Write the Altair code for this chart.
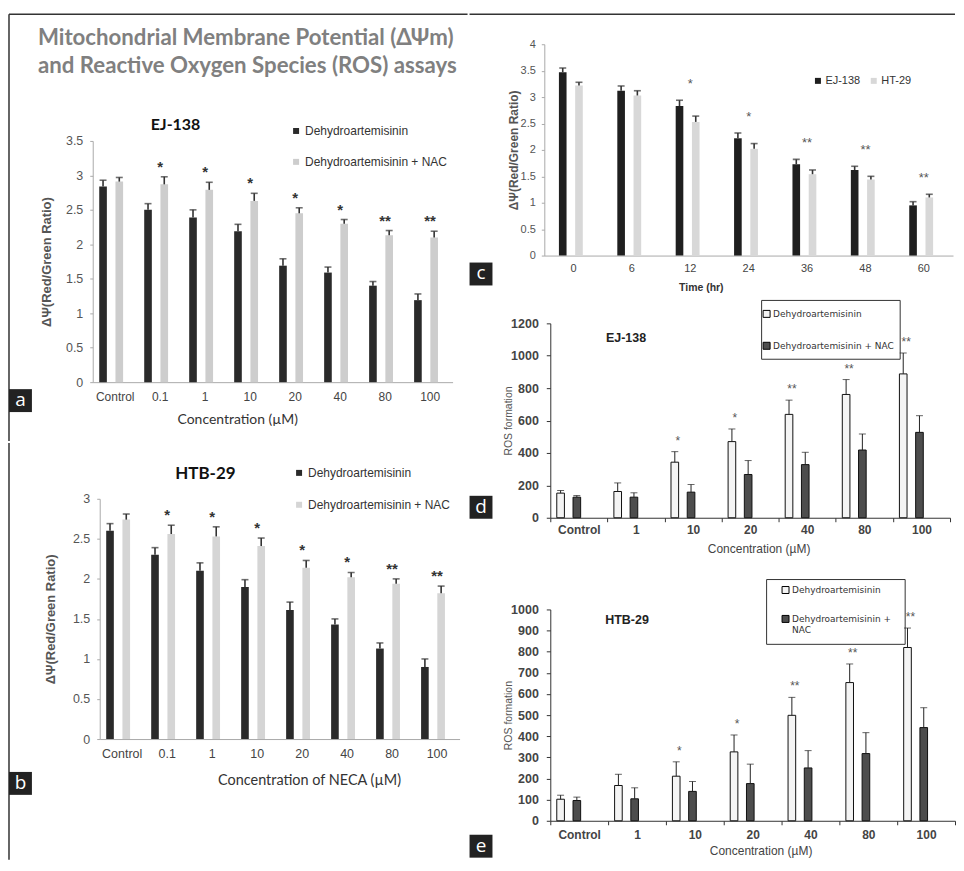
import altair as alt
import pandas as pd

# ---------------- data ----------------
conc_ab = ["Control", "0.1", "1", "10", "20", "40", "80", "100"]
ser_ab = ["Dehydroartemisinin", "Dehydroartemisinin + NAC"]

a_dha = [2.84, 2.50, 2.39, 2.19, 1.69, 1.59, 1.40, 1.19]
a_dha_err = [0.09, 0.09, 0.11, 0.10, 0.10, 0.08, 0.06, 0.09]
a_nac = [2.91, 2.87, 2.79, 2.63, 2.45, 2.30, 2.13, 2.10]
a_nac_err = [0.06, 0.11, 0.11, 0.11, 0.08, 0.06, 0.07, 0.09]
a_sig = ["", "*", "*", "*", "*", "*", "**", "**"]

b_dha = [2.60, 2.30, 2.10, 1.90, 1.61, 1.43, 1.13, 0.90]
b_dha_err = [0.09, 0.09, 0.10, 0.09, 0.10, 0.07, 0.07, 0.10]
b_nac = [2.74, 2.56, 2.53, 2.41, 2.14, 2.02, 1.94, 1.82]
b_nac_err = [0.07, 0.11, 0.12, 0.10, 0.09, 0.06, 0.06, 0.09]
b_sig = ["", "*", "*", "*", "*", "*", "**", "**"]

times_c = ["0", "6", "12", "24", "36", "48", "60"]
ser_c = ["EJ-138", "HT-29"]
c_ej = [3.47, 3.12, 2.83, 2.22, 1.73, 1.62, 0.95]
c_ej_err = [0.08, 0.09, 0.11, 0.10, 0.09, 0.07, 0.07]
c_ht = [3.22, 3.03, 2.53, 2.02, 1.54, 1.44, 1.10]
c_ht_err = [0.06, 0.09, 0.11, 0.10, 0.08, 0.06, 0.06]
c_sig = ["", "", "*", "*", "**", "**", "**"]

conc_de = ["Control", "1", "10", "20", "40", "80", "100"]
ser_de = ["Dehydroartemisinin", "Dehydroartemisinin + NAC"]
d_dha = [152, 162, 343, 470, 638, 761, 888]
d_dha_err = [16, 53, 65, 78, 88, 92, 129]
d_nac = [127, 127, 158, 267, 328, 418, 527]
d_nac_err = [10, 27, 47, 86, 76, 99, 103]
d_sig = ["", "", "*", "*", "**", "**", "**"]

e_dha = [102, 167, 211, 326, 499, 654, 820]
e_dha_err = [19, 53, 68, 80, 85, 88, 92]
e_nac = [96, 104, 139, 176, 250, 318, 441]
e_nac_err = [16, 52, 47, 92, 82, 99, 94]
e_sig = ["", "", "*", "*", "**", "**", "**"]

main_title = ["Mitochondrial Membrane Potential (\u0394\u03a8m)",
              "and Reactive Oxygen Species (ROS) assays"]

SANS = "Liberation Sans"
one = pd.DataFrame({"k": [0]})
NUM_LABEL = "'' + datum.value"


def make_df(cats, names, s1, e1, s2, e2):
    n = len(cats)
    df = pd.DataFrame({
        "cat": list(cats) * 2,
        "series": [names[0]] * n + [names[1]] * n,
        "value": list(s1) + list(s2),
        "err": list(e1) + list(e2),
    })
    df["top"] = df["value"] + df["err"]
    return df


def star_df(cats, names, s1, e1, s2, e2, sig, mode):
    t1 = [v + e for v, e in zip(s1, e1)]
    t2 = [v + e for v, e in zip(s2, e2)]
    if mode == "first":
        anchor = t1
    elif mode == "second":
        anchor = t2
    else:
        anchor = [max(p, q) for p, q in zip(t1, t2)]
    return pd.DataFrame({"cat": cats, "sig": sig, "anchor": anchor,
                         "series": [names[0]] * len(cats)})


def rect_l(x0, x1, y0, y1, **kw):
    return alt.Chart(one).mark_rect(**kw).encode(
        x=alt.value(x0), x2=alt.value(x1), y=alt.value(y0), y2=alt.value(y1))


def rule_l(x0, x1, y0, y1, **kw):
    return alt.Chart(one).mark_rule(**kw).encode(
        x=alt.value(x0), x2=alt.value(x1), y=alt.value(y0), y2=alt.value(y1))


def text_l(x, y, txt, **kw):
    return alt.Chart(one).mark_text(text=txt, **kw).encode(
        x=alt.value(x), y=alt.value(y))


def letter_box(x0, y0, letter):
    return [
        rect_l(x0, x0 + 23, y0, y0 + 23, fill="#222222"),
        text_l(x0 + 11.5, y0 + 11, letter, font="Open Sans", fontSize=19,
               color="white", baseline="middle", align="center"),
    ]


def panel(cats, names, s1, e1, s2, e2, sig, star_mode, w, h, ydom,
          x_axis, y_axis, legend, colors, xo_scale, bar_kw, err_color,
          err_w, cap, star_kw, star_on_bar, decor, xrange=None, yrange=None):
    df = make_df(cats, names, s1, e1, s2, e2)
    sdf = star_df(cats, names, s1, e1, s2, e2, sig, star_mode)
    xs = dict(paddingInner=0, paddingOuter=0)
    if xrange is not None:
        xs["range"] = xrange
    X = alt.X("cat:N", sort=cats, title=None, scale=alt.Scale(**xs), axis=x_axis)
    XO = alt.XOffset("series:N", sort=names, scale=alt.Scale(**xo_scale))
    ys = dict(domain=ydom, nice=False, zero=True)
    if yrange is not None:
        ys["range"] = yrange
    ysc = alt.Scale(**ys)
    base = alt.Chart(df)
    bars = base.mark_bar(**bar_kw).encode(
        x=X, xOffset=XO,
        y=alt.Y("value:Q", scale=ysc, axis=y_axis),
        fill=alt.Fill("series:N", scale=alt.Scale(domain=names, range=colors),
                      legend=legend),
    )
    rules = base.mark_rule(color=err_color, strokeWidth=err_w).encode(
        x=X, xOffset=XO,
        y=alt.Y("value:Q", scale=ysc, axis=y_axis), y2="top:Q")
    caps = base.mark_tick(color=err_color, thickness=err_w, size=cap,
                          orient="horizontal").encode(
        x=X, xOffset=XO, y=alt.Y("top:Q", scale=ysc, axis=y_axis))
    enc = dict(x=X, y=alt.Y("anchor:Q", scale=ysc, axis=y_axis), text="sig:N")
    if star_on_bar:
        enc["xOffset"] = XO
    stars = alt.Chart(sdf).mark_text(**star_kw).encode(**enc)
    return alt.layer(*decor, bars, rules, caps, stars).properties(width=w, height=h)


def yaxis(vals, title, tx, **kw):
    base = dict(values=vals, labelExpr=NUM_LABEL, title=title, titleX=tx,
                titleBaseline="middle", grid=False, titleAngle=-90)
    base.update(kw)
    return alt.Axis(**base)


# ---------------- panel a : origin at page (92, 42) ----------------
a_decor = [
    rect_l(-84, 376, -30, 398, opacity=0),
    rule_l(-84, -84, -30, 398, color="#333333", strokeWidth=1.5),
    rule_l(-84, 376, -30, -30, color="#333333", strokeWidth=1.5),
    text_l(-55, -6, main_title, font="Lato", fontSize=22.3, fontWeight="bold",
           color="#808080", align="left", baseline="middle", lineHeight=28),
    text_l(83, 81, "EJ-138", font="Lato", fontSize=16, fontWeight="bold",
           color="#111111", align="center", baseline="middle"),
] + letter_box(-84, 346, "a")

a_chart = panel(
    conc_ab, ser_ab, a_dha, a_dha_err, a_nac, a_nac_err, a_sig, "second",
    361, 339, [0, 3.5],
    alt.Axis(title="Concentration  (\u00b5M)", titleFont="Lato", titleFontSize=14,
             titleFontWeight="normal", titleColor="#333333", titleX=145, titleY=37,
             titleBaseline="middle", labelAngle=0, labelFont=SANS, labelFontSize=12,
             labelColor="#444444", labelPadding=9, ticks=False, tickSize=0,
             domainColor="#aaaaaa"),
    yaxis([0, 0.5, 1, 1.5, 2, 2.5, 3, 3.5], "\u0394\u03a8(Red/Green Ratio)", -46,
          titleY=218, titleFont=SANS, titleFontSize=13, titleFontWeight="bold",
          titleColor="#555555", labelFont=SANS, labelFontSize=12.5,
          labelColor="#555555", labelPadding=7, tickSize=3, tickColor="#aaaaaa",
          domainColor="#aaaaaa"),
    alt.Legend(orient="none", legendX=198, legendY=81, title=None,
               direction="vertical", symbolType="square", symbolSize=36,
               symbolStrokeWidth=0, labelFont=SANS, labelFontSize=12,
               labelColor="#333333", labelOffset=3, rowPadding=19, padding=0,
               labelLimit=300),
    ["#2a2a2a", "#cdcdcd"], dict(paddingInner=0.06, paddingOuter=0.8),
    {}, "#333333", 1.6, 7,
    dict(font=SANS, fontSize=15, fontWeight="bold", color="#333333",
         baseline="middle", dy=-10), False, a_decor, yrange=[339, 97])

# ---------------- panel b : origin at page (92, 496) ----------------
b_decor = [
    rect_l(-84, 376, -56, 362, opacity=0),
    rule_l(-84, -84, -56, 362, color="#333333", strokeWidth=1.5),
    text_l(113, -25, "HTB-29", font="Lato", fontSize=17, fontWeight="bold",
           color="#111111", align="center", baseline="middle"),
] + letter_box(-84, 274, "b")

b_chart = panel(
    conc_ab, ser_ab, b_dha, b_dha_err, b_nac, b_nac_err, b_sig, "second",
    368, 241, [0, 3],
    alt.Axis(title="Concentration of NECA (\u00b5M)", titleFont="Lato",
             titleFontSize=14.5, titleFontWeight="normal", titleColor="#333333",
             titleX=217, titleY=42, titleBaseline="middle", labelAngle=0,
             labelFont=SANS, labelFontSize=12.5, labelColor="#444444",
             labelPadding=9, ticks=False, tickSize=0, domainColor="#aaaaaa"),
    yaxis([0, 0.5, 1, 1.5, 2, 2.5, 3], "\u0394\u03a8(Red/Green Ratio)", -49,
          offset=-7, titleFont=SANS, titleFontSize=13, titleFontWeight="bold",
          titleColor="#555555", labelFont=SANS, labelFontSize=12.5,
          labelColor="#555555", labelPadding=7, tickSize=3, tickColor="#aaaaaa",
          domainColor="#aaaaaa"),
    alt.Legend(orient="none", legendX=201, legendY=-32, title=None,
               direction="vertical", symbolType="square", symbolSize=36,
               symbolStrokeWidth=0, labelFont=SANS, labelFontSize=12,
               labelColor="#333333", labelOffset=3, rowPadding=20, padding=0,
               labelLimit=300),
    ["#2a2a2a", "#d5d5d5"], dict(paddingInner=0.06, paddingOuter=0.8),
    {}, "#333333", 1.6, 7,
    dict(font=SANS, fontSize=15, fontWeight="bold", color="#333333",
         baseline="middle", dy=-10), False, b_decor, xrange=[7, 368])

# ---------------- panel c : origin at page (543, 42) ----------------
c_decor = [
    rect_l(-75, 412, -30, 252, opacity=0),
    rule_l(-75, 412, -30, -30, color="#333333", strokeWidth=1.5),
] + letter_box(-75, 219, "c")

c_chart = panel(
    times_c, ser_c, c_ej, c_ej_err, c_ht, c_ht_err, c_sig, "max",
    410, 212, [0, 4],
    alt.Axis(title="Time (hr)", titleFont=SANS, titleFontSize=10.5,
             titleFontWeight="bold", titleColor="#333333", titleX=157, titleY=32,
             titleBaseline="middle", labelAngle=0, labelFont=SANS,
             labelFontSize=11, labelColor="#444444", labelPadding=7,
             ticks=False, tickSize=0, domainColor="#aaaaaa"),
    yaxis([0, 0.5, 1, 1.5, 2, 2.5, 3, 3.5, 4], "\u0394\u03a8(Red/Green Ratio)", -31,
          titleFont=SANS, titleFontSize=12, titleFontWeight="bold",
          titleColor="#555555", labelFont=SANS, labelFontSize=11,
          labelColor="#555555", labelPadding=6, tickSize=3, tickColor="#aaaaaa",
          domainColor="#aaaaaa"),
    alt.Legend(orient="none", legendX=269, legendY=31, title=None,
               direction="horizontal", columns=2, columnPadding=8,
               symbolType="square", symbolSize=36, symbolStrokeWidth=0,
               labelFont=SANS, labelFontSize=11, labelColor="#333333",
               labelOffset=2, padding=0),
    ["#1f1f1f", "#d8d8d8"], dict(paddingInner=0, paddingOuter=0.96),
    {}, "#333333", 1.6, 7,
    dict(font=SANS, fontSize=13, color="#555555", baseline="middle", dy=-16),
    False, c_decor)

# ---------------- panel d : origin at page (543, 322) ----------------
d_decor = [
    rect_l(-75, 412, -28, 248, opacity=0),
    rect_l(218, 357, -23, 36, fillOpacity=0, stroke="#333333", strokeWidth=1),
    text_l(82, 15, "EJ-138", font=SANS, fontSize=12.5, fontWeight="bold",
           color="#222222", align="center", baseline="middle"),
] + letter_box(-75, 173, "d")

de_bar = dict(stroke="#111111", strokeWidth=1)

d_chart = panel(
    conc_de, ser_de, d_dha, d_dha_err, d_nac, d_nac_err, d_sig, "first",
    407, 195, [0, 1200],
    alt.Axis(title="Concentration  (\u00b5M)", titleFont=SANS, titleFontSize=12,
             titleFontWeight="normal", titleColor="#444444", titleX=215, titleY=31,
             titleBaseline="middle", labelAngle=0, labelFont=SANS,
             labelFontSize=12, labelFontWeight="bold", labelColor="#444444",
             labelPadding=3, tickBand="extent", tickSize=4, tickColor="#333333",
             domainColor="#333333"),
    yaxis([0, 200, 400, 600, 800, 1000, 1200], "ROS formation", -42,
          offset=-6, titleFont=SANS, titleFontSize=10.5, titleFontWeight="normal",
          titleColor="#555555", labelFont=SANS, labelFontSize=12.5,
          labelFontWeight="bold", labelColor="#444444", labelPadding=8,
          tickSize=4, tickColor="#333333", domainColor="#333333"),
    alt.Legend(orient="none", legendX=218.5, legendY=-14, title=None,
               direction="vertical", symbolType="square", symbolSize=49,
               symbolStrokeColor="#000000", symbolStrokeWidth=1,
               labelFont="DejaVu Sans", labelFontSize=9, labelColor="#333333",
               labelOffset=2, rowPadding=21, padding=0, labelLimit=300),
    ["#f4f4f4", "#4d4d4d"], dict(paddingInner=0, paddingOuter=0.724),
    de_bar, "#222222", 1, 7,
    dict(font=SANS, fontSize=12, color="#555555", baseline="middle", dy=-11, dx=3),
    True, d_decor, xrange=[6, 407])

# ---------------- panel e : origin at page (543, 609) ----------------
e_decor = [
    rect_l(-75, 412, -39, 249, opacity=0),
    rect_l(223, 362, -30, 35, fillOpacity=0, stroke="#333333", strokeWidth=1),
    text_l(83, 11, "HTB-29", font=SANS, fontSize=12.5, fontWeight="bold",
           color="#222222", align="center", baseline="middle"),
] + letter_box(-75, 226, "e")

e_chart = panel(
    conc_de, ser_de, e_dha, e_dha_err, e_nac, e_nac_err, e_sig, "first",
    412, 212, [0, 1000],
    alt.Axis(title="Concentration  (\u00b5M)", titleFont=SANS, titleFontSize=12,
             titleFontWeight="normal", titleColor="#444444", titleX=217, titleY=30,
             titleBaseline="middle", labelAngle=0, labelFont=SANS,
             labelFontSize=12, labelFontWeight="bold", labelColor="#444444",
             labelPadding=5, tickBand="extent", tickSize=4, tickColor="#333333",
             domainColor="#333333"),
    yaxis([0, 100, 200, 300, 400, 500, 600, 700, 800, 900, 1000], "ROS formation", -42,
          offset=-6, titleFont=SANS, titleFontSize=10.5, titleFontWeight="normal",
          titleColor="#555555", labelFont=SANS, labelFontSize=12.5,
          labelFontWeight="bold", labelColor="#444444", labelPadding=8,
          tickSize=4, tickColor="#333333", domainColor="#333333"),
    alt.Legend(orient="none", legendX=237.5, legendY=-24, title=None,
               direction="vertical", symbolType="square", symbolSize=49,
               symbolStrokeColor="#000000", symbolStrokeWidth=1,
               labelFont="DejaVu Sans", labelFontSize=9, labelColor="#333333",
               labelOffset=2, rowPadding=18, padding=0, labelLimit=300,
               labelExpr="datum.label == 'Dehydroartemisinin + NAC' ? ['Dehydroartemisinin +', 'NAC'] : datum.label"),
    ["#f4f4f4", "#4d4d4d"], dict(paddingInner=0, paddingOuter=0.724),
    de_bar, "#222222", 1, 7,
    dict(font=SANS, fontSize=12, color="#555555", baseline="middle", dy=-11, dx=3),
    True, e_decor, xrange=[6, 412])


def indep(c):
    return c.resolve_scale(fill="independent").resolve_legend(fill="independent")


left = indep(alt.vconcat(a_chart, b_chart, spacing=0))
right = indep(alt.vconcat(c_chart, d_chart, e_chart, spacing=0))

chart = indep(alt.hconcat(left, right, spacing=0)).properties(
    padding={"left": 0, "top": 4, "right": 0, "bottom": 0},
    background="white",
).configure_view(stroke=None)

chart.save("out.html", embed_options={"renderer": "svg", "actions": False})
